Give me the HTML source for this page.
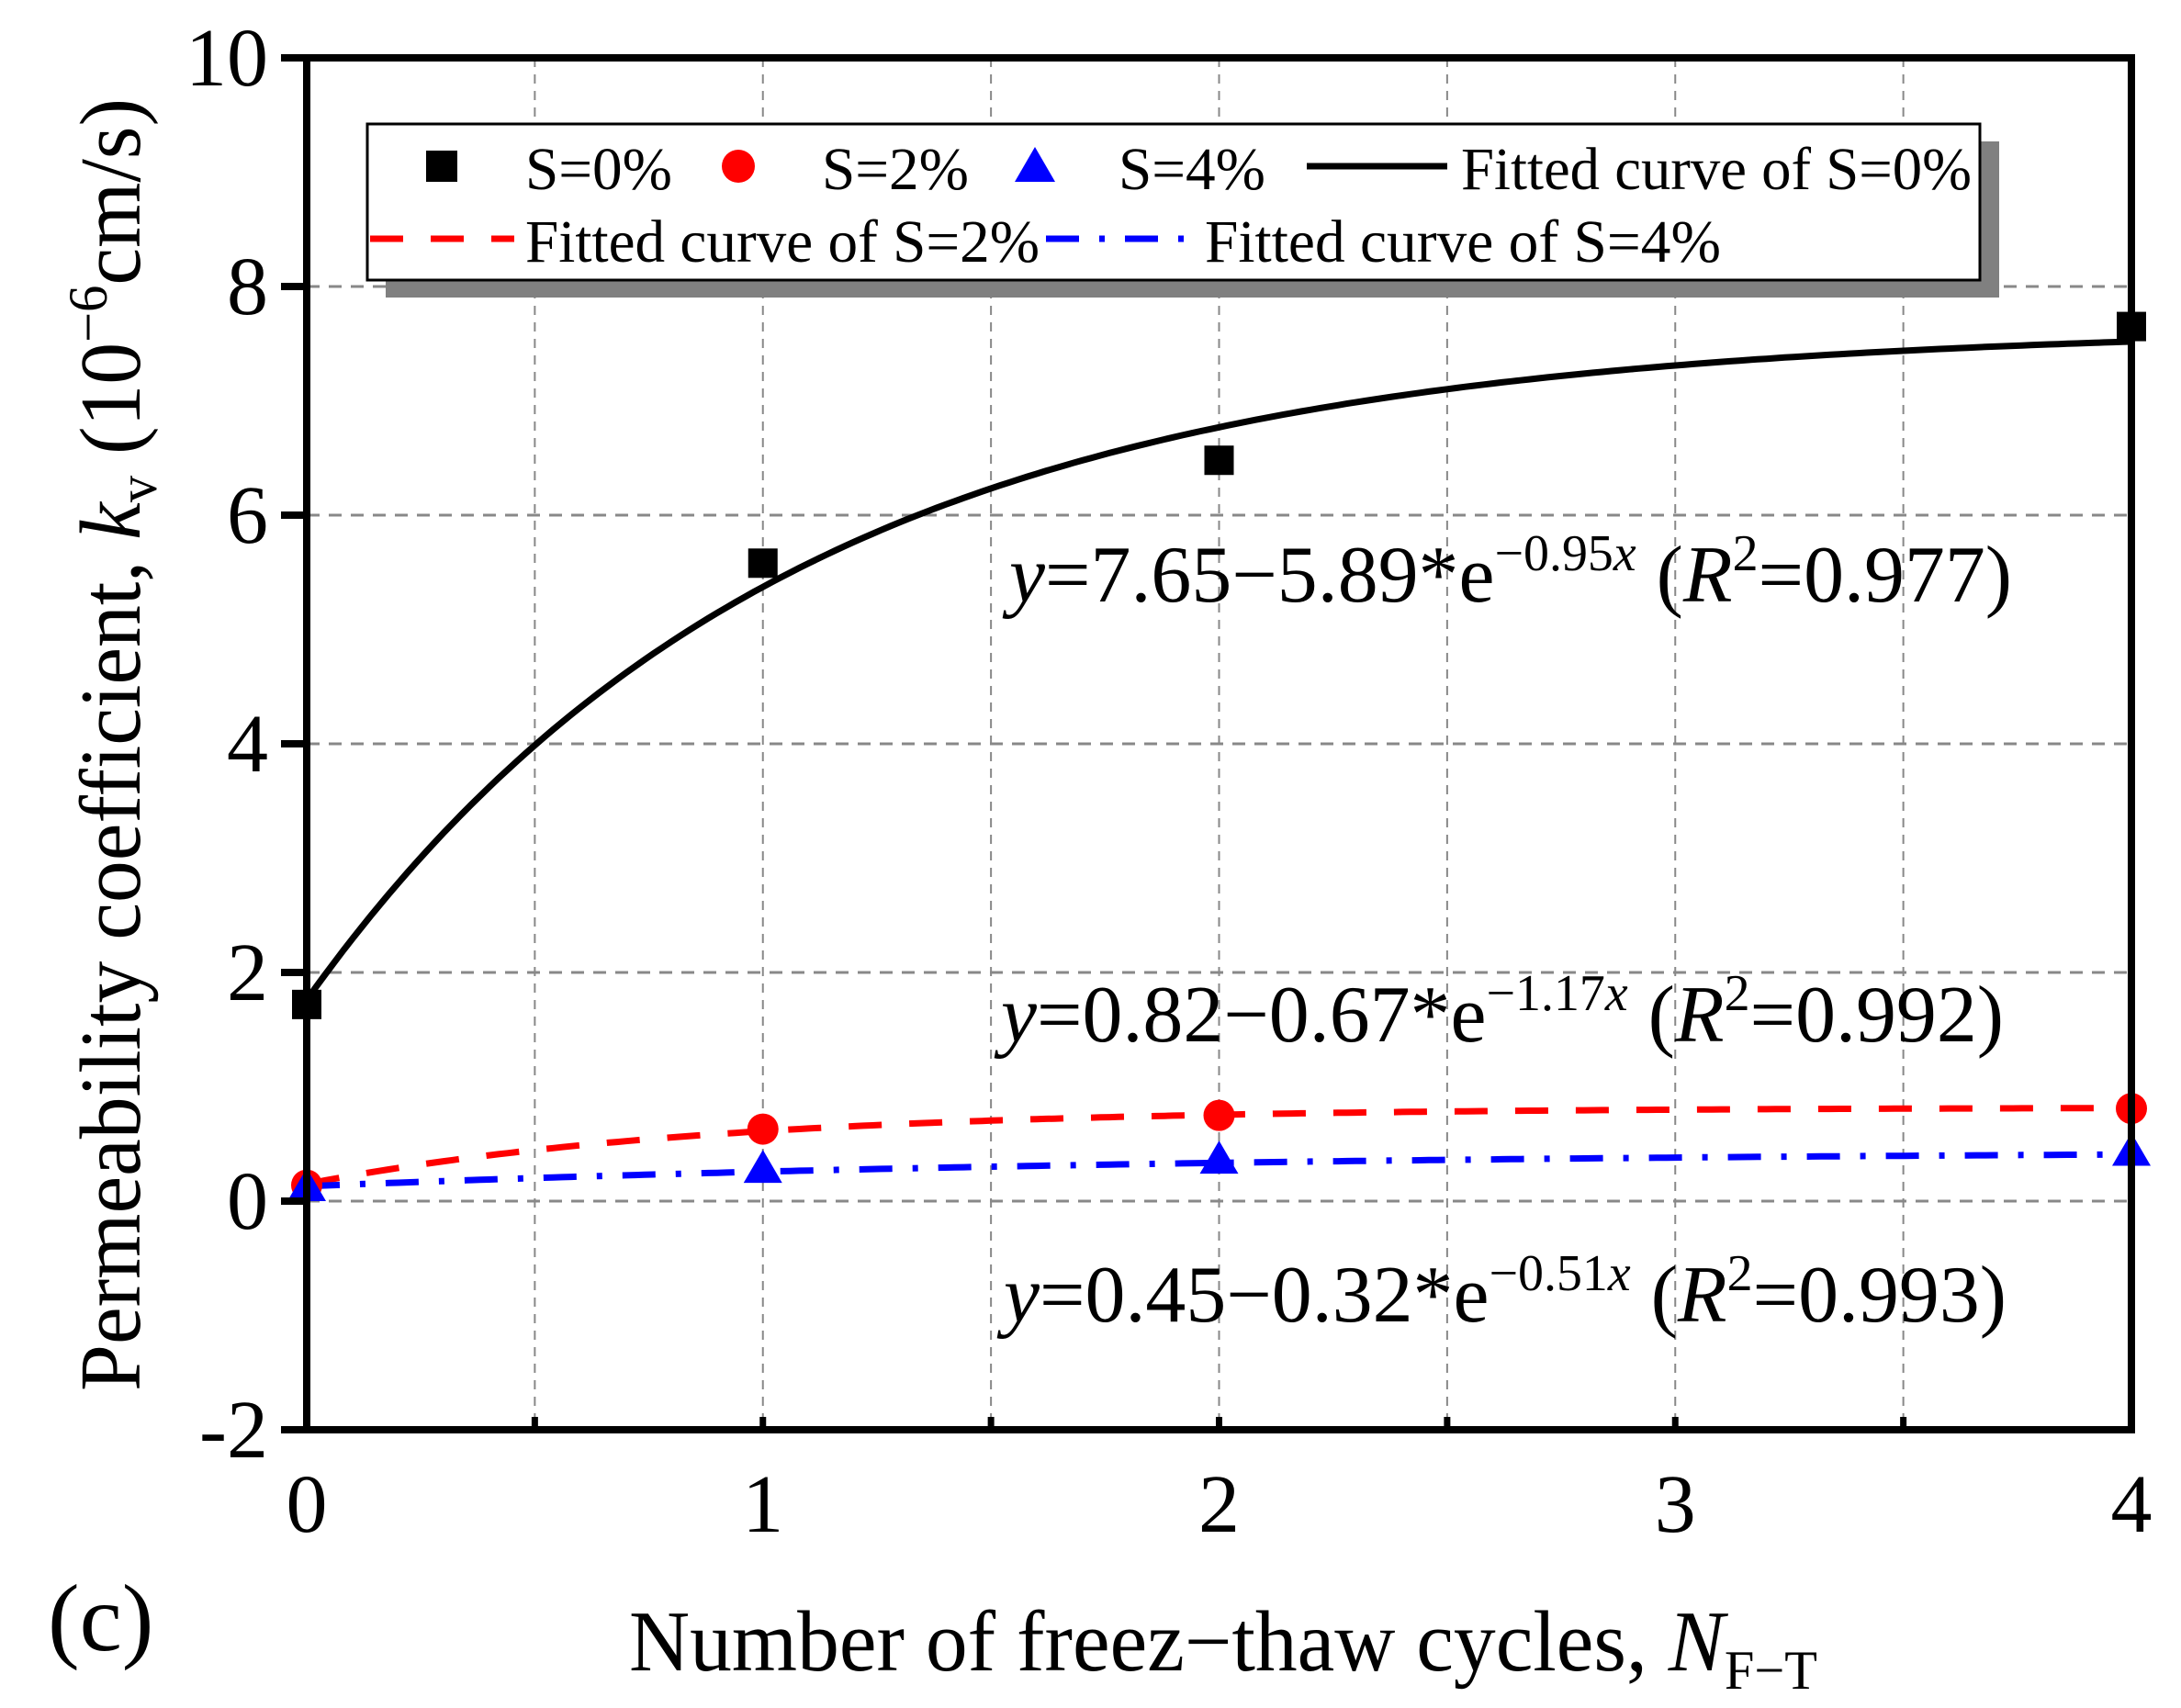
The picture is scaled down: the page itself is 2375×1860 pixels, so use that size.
<!DOCTYPE html>
<html><head><meta charset="utf-8"><style>
html,body{margin:0;padding:0;background:#fff;}
svg{display:block;font-family:"Liberation Serif","Times New Roman",serif;}
</style></head><body>
<svg id="chart" width="2375" height="1860" viewBox="0 0 2375 1860" xmlns="http://www.w3.org/2000/svg">
<g id="grid"></g>
<g id="curves"></g>
<g id="marks"></g>
<g id="axes"></g>
<g font-size="88">
<text x="1099" y="655" textLength="1092" lengthAdjust="spacingAndGlyphs"><tspan font-style="italic">y</tspan>=7.65−5.89*e<tspan dy="-34" font-size="56">−0.95<tspan font-style="italic">x</tspan></tspan><tspan dy="34">  (</tspan><tspan font-style="italic">R</tspan><tspan dy="-34" font-size="56">2</tspan><tspan dy="34">=0.977)</tspan></text>
<text x="1090" y="1134" textLength="1092" lengthAdjust="spacingAndGlyphs"><tspan font-style="italic">y</tspan>=0.82−0.67*e<tspan dy="-34" font-size="56">−1.17<tspan font-style="italic">x</tspan></tspan><tspan dy="34">  (</tspan><tspan font-style="italic">R</tspan><tspan dy="-34" font-size="56">2</tspan><tspan dy="34">=0.992)</tspan></text>
<text x="1093" y="1439" textLength="1092" lengthAdjust="spacingAndGlyphs"><tspan font-style="italic">y</tspan>=0.45−0.32*e<tspan dy="-34" font-size="56">−0.51<tspan font-style="italic">x</tspan></tspan><tspan dy="34">  (</tspan><tspan font-style="italic">R</tspan><tspan dy="-34" font-size="56">2</tspan><tspan dy="34">=0.993)</tspan></text>
</g>
<g font-size="66">
<rect x="420" y="154" width="1757" height="170" fill="#808080"/>
<rect x="400" y="135" width="1756" height="170" fill="#fff" stroke="#000" stroke-width="3"/>
<rect x="464" y="164" width="34" height="34" fill="#000"/>
<text x="572" y="206" textLength="160" lengthAdjust="spacingAndGlyphs">S=0%</text>
<circle cx="804" cy="181" r="18" fill="#f00"/>
<text x="895" y="206" textLength="160" lengthAdjust="spacingAndGlyphs">S=2%</text>
<polygon points="1127,160 1149,198 1105,198" fill="#00f"/>
<text x="1218" y="206" textLength="160" lengthAdjust="spacingAndGlyphs">S=4%</text>
<line x1="1423" y1="181" x2="1576" y2="181" stroke="#000" stroke-width="7"/>
<text x="1591" y="206" textLength="556" lengthAdjust="spacingAndGlyphs">Fitted curve of S=0%</text>
<line x1="403" y1="260" x2="560" y2="260" stroke="#f00" stroke-width="7" stroke-dasharray="36,30"/>
<text x="572" y="285" textLength="560" lengthAdjust="spacingAndGlyphs">Fitted curve of S=2%</text>
<line x1="1139" y1="260" x2="1302" y2="260" stroke="#00f" stroke-width="7" stroke-dasharray="36,22,6,22"/>
<text x="1312" y="285" textLength="562" lengthAdjust="spacingAndGlyphs">Fitted curve of S=4%</text>
</g>
<text x="685" y="1819" font-size="94" textLength="1294" lengthAdjust="spacingAndGlyphs">Number of freez−thaw cycles, <tspan font-style="italic">N</tspan><tspan dy="20" font-size="60">F−T</tspan></text>
<text transform="translate(152,1515) rotate(-90)" font-size="94" textLength="1408" lengthAdjust="spacingAndGlyphs">Permeability coefficient, <tspan font-style="italic">k</tspan><tspan dy="18" font-size="60">v</tspan><tspan dy="-18"> (10</tspan><tspan dy="-36" font-size="60">−6</tspan><tspan dy="36">cm/s)</tspan></text>
<text x="52" y="1797" font-size="104">(c)</text>
</svg>
<script>
const xTicks = [0, 1, 2, 3, 4];
const yTicks = [-2, 0, 2, 4, 6, 8, 10];
const xCats = [0, 1, 2, 4];
const s0 = [1.72, 5.58, 6.48, 7.65];
const s2 = [0.14, 0.63, 0.75, 0.81];
const s4 = [0.12, 0.28, 0.36, 0.43];
const fit0 = [7.65, 5.89, 0.95];
const fit2 = [0.82, 0.67, 1.17];
const fit4 = [0.45, 0.32, 0.51];

const L=334, R=2321, T=63, B=1557;
const xMin=0, xMax=4, yMin=-2, yMax=10;
const sx = v => L + (v-xMin)/(xMax-xMin)*(R-L);
const sy = v => B - (v-yMin)/(yMax-yMin)*(B-T);
const NS='http://www.w3.org/2000/svg';
function mk(tag, parent, attrs){const e=document.createElementNS(NS,tag);for(const k in attrs)e.setAttribute(k,attrs[k]);parent.appendChild(e);return e;}
const grid=document.getElementById('grid'), axes=document.getElementById('axes'), curves=document.getElementById('curves'), marks=document.getElementById('marks');

for(let v=xMin+0.5; v<xMax; v+=0.5){
  const g=mk('line',grid,{x1:sx(v),x2:sx(v),y1:T,y2:B,stroke:'#888','stroke-width':2,'stroke-dasharray':'10,8'});
  
  
}
yTicks.forEach(v=>{ if(v>yMin && v<yMax){
  const g=mk('line',grid,{x1:L,x2:R,y1:sy(v),y2:sy(v),stroke:'#888','stroke-width':3,'stroke-dasharray':'14,10'});
  
  
}});

function fitPath(p, color, dash, name){
  let d='';
  for(let i=0;i<=200;i++){const x=xMin+(xMax-xMin)*i/200;const y=p[0]-p[1]*Math.exp(-p[2]*x);d+=(i?'L':'M')+sx(x).toFixed(1)+','+sy(y).toFixed(1);}
  const e=mk('path',curves,{d:d,fill:'none',stroke:color,'stroke-width':7});
  if(dash) e.setAttribute('stroke-dasharray',dash);
  
  
}
fitPath(fit0,'#000',null,'fit-curve-s0');
fitPath(fit2,'#f00','36,30','fit-curve-s2');
fitPath(fit4,'#00f','36,22,6,22','fit-curve-s4');

xCats.forEach((x,i)=>{
  const a=mk('rect',marks,{x:sx(x)-16,y:sy(s0[i])-16,width:32,height:32,fill:'#000'});
  
  
  const b=mk('circle',marks,{cx:sx(x),cy:sy(s2[i]),r:17,fill:'#f00'});
  
  
  const cx=sx(x), cy=sy(s4[i]);
  const c=mk('polygon',marks,{points:`${cx},${cy-21} ${cx+21},${cy+15} ${cx-21},${cy+15}`,fill:'#00f'});
  
  
});

const frame=mk('path',axes,{d:`M${L},${T}H${R}V${B}H${L}Z`,fill:'none',stroke:'#000','stroke-width':8});


yTicks.forEach(v=>{
  const t=mk('line',axes,{x1:L-28,x2:L,y1:sy(v),y2:sy(v),stroke:'#000','stroke-width':8});
  
  
  const lb=mk('text',axes,{x:L-42,y:sy(v)+30,'font-size':90,'text-anchor':'end'});
  lb.textContent=String(v);
  
  
});
for(let v=xMin+0.5; v<xMax; v+=0.5){
  const t=mk('line',axes,{x1:sx(v),x2:sx(v),y1:B,y2:B-14,stroke:'#000','stroke-width':7});
  
  
}
xTicks.forEach(v=>{
  const lb=mk('text',axes,{x:sx(v),y:1668,'font-size':90,'text-anchor':'middle'});
  lb.textContent=String(v);
  
  
});
</script>
</body></html>
